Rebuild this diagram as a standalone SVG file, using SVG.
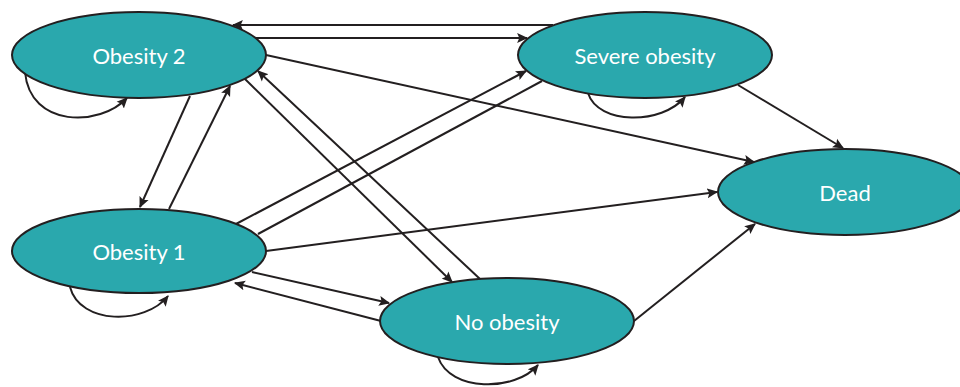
<svg xmlns="http://www.w3.org/2000/svg" width="960" height="387" viewBox="0 0 960 387">
<style>
.node ellipse{fill:#2aa8ad;stroke:#231f20;stroke-width:2}
.node text{font-family:Lato,"Open Sans",sans-serif;font-size:22px;fill:#ffffff;text-anchor:middle;dominant-baseline:central}
.edge{fill:none;stroke:#231f20;stroke-width:2}
.arr{marker-end:url(#ah)}
</style>
<defs>
<marker id="ah" viewBox="0 0 10 10" refX="9" refY="5" markerWidth="11" markerHeight="11" markerUnits="userSpaceOnUse" orient="auto">
<path d="M0,0.5 L10,5 L0,9.5 L2,5 Z" fill="#231f20"/>
</marker>
</defs>
<rect width="960" height="387" fill="#ffffff"/>
<g id="connectors">
<line class="edge arr" x1="553" y1="25" x2="233" y2="25"/>
<line class="edge arr" x1="256" y1="38" x2="527" y2="38"/>
<line class="edge arr" x1="266" y1="55" x2="754" y2="162"/>
<line class="edge arr" x1="738" y1="85" x2="843" y2="148"/>
<line class="edge arr" x1="266" y1="251" x2="717" y2="192"/>
<line class="edge arr" x1="634" y1="321" x2="755" y2="224"/>
<line class="edge arr" x1="190" y1="96" x2="140" y2="207"/>
<line class="edge arr" x1="169" y1="209" x2="230" y2="86"/>
<line class="edge arr" x1="245" y1="79" x2="452" y2="282"/>
<line class="edge arr" x1="480" y1="279" x2="258" y2="71"/>
<line class="edge arr" x1="236" y1="224" x2="526" y2="71"/>
<line class="edge" x1="542" y1="81" x2="258" y2="234"/>
<line class="edge arr" x1="252" y1="272" x2="389" y2="303"/>
<line class="edge arr" x1="381" y1="321" x2="235" y2="283"/>
<path class="edge arr" d="M25,72 C30,128 100,127 127,98"/>
<path class="edge arr" d="M588,93 C598,125 662,125 685,97"/>
<path class="edge arr" d="M70,287 C80,325 145,325 168,296"/>
<path class="edge arr" d="M438,357 C450,392 515,392 538,365"/>
</g>
<g id="obesity2" class="node"><ellipse cx="139" cy="55" rx="127" ry="43"/><text x="139" y="55">Obesity 2</text></g>
<g id="severe" class="node"><ellipse cx="645" cy="55" rx="127" ry="43"/><text x="645" y="55">Severe obesity</text></g>
<g id="obesity1" class="node"><ellipse cx="139" cy="251" rx="127" ry="42"/><text x="139" y="251">Obesity 1</text></g>
<g id="noobesity" class="node"><ellipse cx="507" cy="321" rx="127" ry="43"/><text x="507" y="321">No obesity</text></g>
<g id="dead" class="node"><ellipse cx="845" cy="192" rx="127" ry="43"/><text x="845" y="192">Dead</text></g>
</svg>
